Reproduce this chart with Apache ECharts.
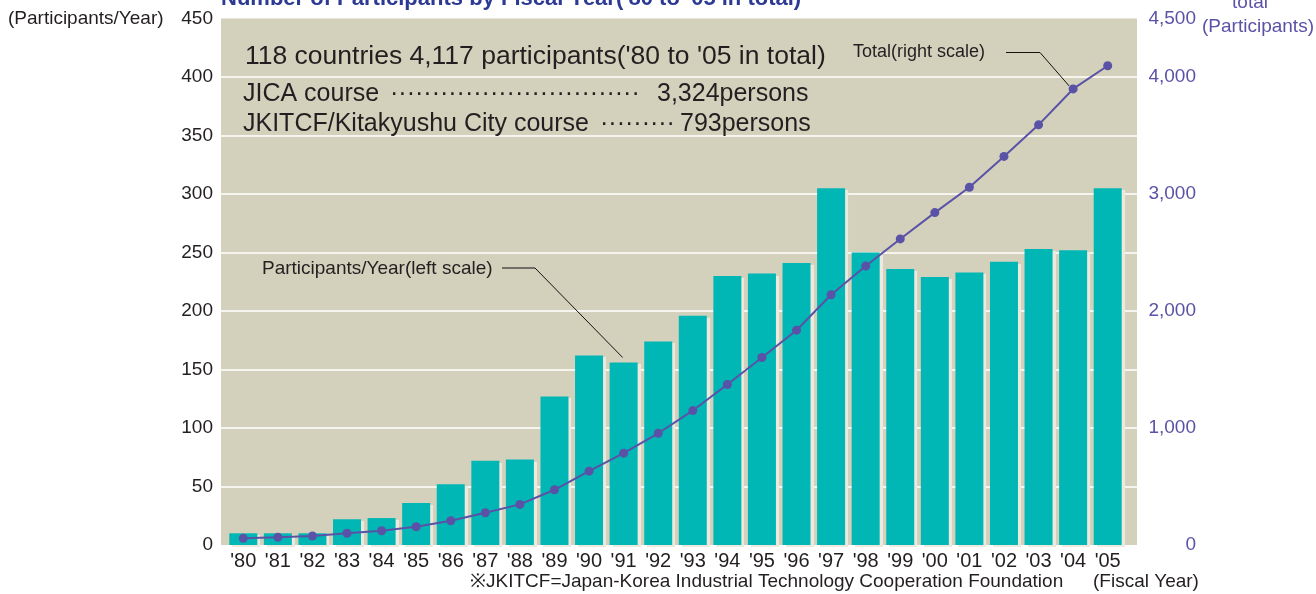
<!DOCTYPE html>
<html>
<head>
    <meta charset="utf-8">
    <title>Number of Participants by Fiscal Year</title>
    <script src="https://cdn.jsdelivr.net/npm/echarts/dist/echarts.min.js"></script>
    <style>
        html, body { margin: 0; padding: 0; background: #fff; }
        #main { width: 1316px; height: 594px; }
    </style>
</head>
<body>
<div id="main"></div>

<script type="text/javascript">
    // fiscal years on the x axis
    var years = ["'80", "'81", "'82", "'83", "'84", "'85", "'86", "'87", "'88", "'89", "'90", "'91", "'92",
        "'93", "'94", "'95", "'96", "'97", "'98", "'99", "'00", "'01", "'02", "'03", "'04", "'05"];
    // participants per year (left scale)
    var perYear = [10, 10, 10, 22, 23, 36, 52, 72, 73, 127, 162, 156, 174,
        196, 230, 232, 241, 305, 250, 236, 229, 233, 242, 253, 252, 305];
    // running total (right scale)
    var totals = [57, 66, 77, 100, 122, 156, 207, 276, 347, 472, 631, 785, 955,
        1149, 1372, 1603, 1836, 2139, 2384, 2616, 2841, 3058, 3321, 3591, 3898, 4096];

    var font = "'Liberation Sans', Arial, sans-serif";
    var dark = '#231f20';
    var purple = '#5a52a6';

    function comma(v) {
        return String(v).replace(/\B(?=(\d{3})+(?!\d))/g, ',');
    }

    function txt(text, x, y, size, color, align, weight) {
        return {
            type: 'text', x: x, y: y, z: 100,
            style: {
                text: text, fill: color || dark, align: align || 'left', verticalAlign: 'middle',
                font: (weight || 'normal') + ' ' + size + 'px ' + font
            }
        };
    }

    var myChart = echarts.init(document.getElementById('main'));
    myChart.setOption({
        animation: false,
        textStyle: { fontFamily: font },
        grid: [
            // beige plot background with the grid lines
            { left: 221, right: 179, top: 18.5, bottom: 49, show: true, backgroundColor: '#d3d0bc', borderWidth: 0 },
            // the bars and the line sit a bit inside it
            { left: 226, right: 191, top: 18.5, bottom: 49 }
        ],
        xAxis: [
            { gridIndex: 0, type: 'value', show: false },
            {
                gridIndex: 1, type: 'category', data: years,
                axisLine: { show: false }, axisTick: { show: false },
                axisLabel: { color: dark, fontSize: 20, margin: 6, interval: 0 }
            }
        ],
        yAxis: [
            {
                gridIndex: 0, type: 'value', min: 0, max: 450, interval: 50,
                axisLine: { show: false }, axisTick: { show: false },
                axisLabel: { color: dark, fontSize: 19, margin: 8 },
                splitLine: { showMinLine: false, showMaxLine: false, lineStyle: { color: '#f6f4ee', width: 2 } }
            },
            {
                gridIndex: 0, type: 'value', position: 'right', min: 0, max: 4500, interval: 1000,
                axisLine: { show: false }, axisTick: { show: false }, splitLine: { show: false },
                axisLabel: { color: purple, fontSize: 19, margin: 59, align: 'right', formatter: comma }
            },
            { gridIndex: 1, type: 'value', min: 0, max: 450, show: false, splitLine: { show: false } },
            { gridIndex: 1, type: 'value', min: 0, max: 4500, show: false, position: 'right', splitLine: { show: false } }
        ],
        series: [
            {
                name: 'Participants/Year', type: 'bar', xAxisIndex: 1, yAxisIndex: 2,
                barWidth: 28, data: perYear,
                itemStyle: { color: '#00b7b5', shadowColor: '#ece9de', shadowOffsetX: 3, shadowOffsetY: 2, shadowBlur: 0.5 }
            },
            {
                name: 'Total', type: 'line', xAxisIndex: 1, yAxisIndex: 3, z: 3,
                data: totals, symbol: 'circle', symbolSize: 9,
                lineStyle: { color: purple, width: 2 },
                itemStyle: { color: purple }
            }
        ]
    });

    // leader lines end at the marks they point to
    var pTotal = myChart.convertToPixel({ seriesIndex: 1 }, [24, totals[24]]);
    var pBar = myChart.convertToPixel({ seriesIndex: 0 }, [11, perYear[11]]);
    var dotsLong = new Array(31).join('\u00b7');
    var dotsShort = new Array(10).join('\u00b7');

    myChart.setOption({
        graphic: [
            txt("Number of Participants by Fiscal Year('80 to '05 in total)", 221, -1, 22, '#2d3a94', 'left', 'bold'),
            txt('(Participants/Year)', 8, 19, 19),
            txt('total', 1250, 3, 19, purple, 'center'),
            txt('(Participants)', 1258, 27, 19, purple, 'center'),
            txt("118 countries 4,117 participants('80 to '05 in total)", 245, 57, 26.5),
            txt('JICA course', 243, 94, 25),
            txt(dotsLong, 390, 94, 25),
            txt('3,324persons', 657, 94, 25),
            txt('JKITCF/Kitakyushu City course', 243, 124, 25),
            txt(dotsShort, 600, 124, 25),
            txt('793persons', 680, 124, 25),
            txt('Total(right scale)', 853, 52, 18),
            txt('Participants/Year(left scale)', 262, 269, 19),
            txt('\u203bJKITCF=Japan-Korea Industrial Technology Cooperation Foundation', 470, 582, 19),
            txt('(Fiscal Year)', 1093, 582, 19),
            {
                type: 'polyline', z: 100,
                shape: { points: [[1006, 52.5], [1040, 52.5], [pTotal[0] - 4, pTotal[1] - 3]] },
                style: { stroke: '#111', lineWidth: 1, fill: null }
            },
            {
                type: 'polyline', z: 100,
                shape: { points: [[502, 268], [535, 268], [pBar[0] - 1, pBar[1] - 5]] },
                style: { stroke: '#111', lineWidth: 1, fill: null }
            }
        ]
    });
</script>
</body>
</html>
